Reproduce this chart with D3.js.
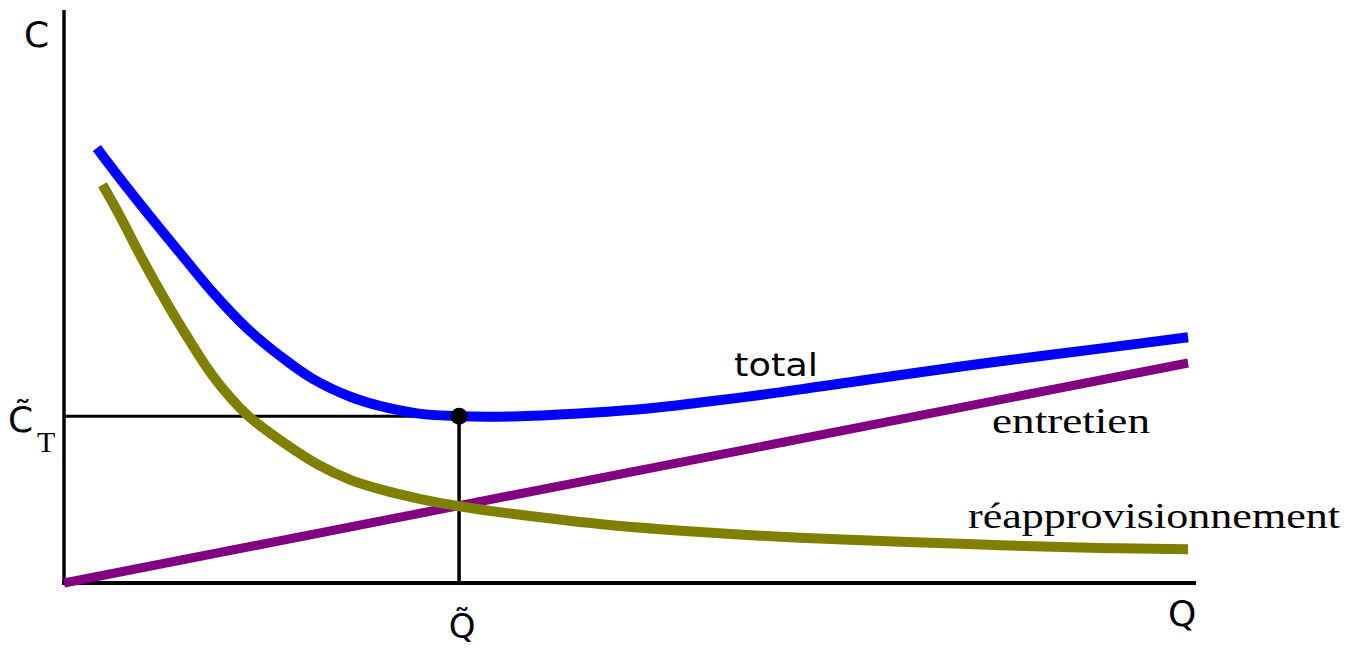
<!DOCTYPE html>
<html>
<head>
<meta charset="utf-8">
<script src="https://cdn.jsdelivr.net/npm/d3@7"></script>
<style>
  html, body { margin: 0; padding: 0; background: #fff; }
  svg { display: block; }
</style>
</head>
<body>
<svg id="chart" width="1359" height="648"></svg>
<script>
// ---- Data (arbitrary units) ----
const totalQ   = [0.29, 0.49, 0.76, 1.05, 1.32, 1.62, 1.93, 2.20, 2.53, 2.79, 3.12, 3.49, 4.03, 4.65, 5.18, 5.62, 6.15, 6.68, 7.39, 8.27, 9.15, 9.93];
const totalC   = [7.59, 7.07, 6.40, 5.70, 5.06, 4.44, 3.93, 3.56, 3.25, 3.09, 2.96, 2.91, 2.91, 2.97, 3.05, 3.15, 3.28, 3.43, 3.63, 3.87, 4.09, 4.29];

const reapproQ = [0.34, 0.49, 0.70, 0.91, 1.05, 1.32, 1.62, 1.97, 2.24, 2.53, 2.82, 3.14, 3.49, 4.03, 4.73, 5.62, 6.50, 7.39, 8.27, 9.15, 9.93];
const reapproC = [6.95, 6.42, 5.62, 4.88, 4.42, 3.60, 2.93, 2.41, 2.07, 1.80, 1.62, 1.47, 1.34, 1.19, 1.03, 0.89, 0.79, 0.72, 0.66, 0.61, 0.59];

const entretienQ = [0, 3.49, 9.93];
const entretienC = [0, 1.35, 3.84];

const optimumQ = 3.49;   // Q tilde
const optimumC = 2.91;   // C tilde T

const seriesLabels = ["total", "entretien", "réapprovisionnement"];
const axisLabels = { y: "C", x: "Q", optX: "Q\u0303", optY: "C\u0303", optYsub: "T" };

// ---- Scales ----
const svg = d3.select("#chart");
const x = d3.scaleLinear().domain([0, 10]).range([64, 1196]);
const y = d3.scaleLinear().domain([0, 10]).range([583, 10]);

// ---- Axes (no ticks) ----
const xAxis = svg.append("g").attr("transform", `translate(0,${y(0)})`)
  .call(d3.axisBottom(x).ticks(0).tickSizeOuter(0));
xAxis.select(".domain").attr("stroke", "#000").attr("stroke-width", 4)
  .attr("d", `M${x(0) - 2},0H${x(10)}`);

const yAxis = svg.append("g").attr("transform", `translate(${x(0)},0)`)
  .call(d3.axisLeft(y).ticks(0).tickSizeOuter(0));
yAxis.select(".domain").attr("stroke", "#000").attr("stroke-width", 3.5)
  .attr("d", `M0,${y(10)}V${y(0) + 2}`);

// ---- Guide lines to optimum ----
svg.append("line")
  .attr("x1", x(0)).attr("x2", x(optimumQ))
  .attr("y1", y(optimumC)).attr("y2", y(optimumC))
  .attr("stroke", "#000").attr("stroke-width", 3);
svg.append("line")
  .attr("x1", x(optimumQ)).attr("x2", x(optimumQ))
  .attr("y1", y(optimumC)).attr("y2", y(0))
  .attr("stroke", "#000").attr("stroke-width", 3.5);

// ---- Curves ----
const line = d3.line().x(d => x(d[0])).y(d => y(d[1])).curve(d3.curveCatmullRom.alpha(0.5));
const zip = (a, b) => a.map((v, i) => [v, b[i]]);

svg.append("path").datum(zip(entretienQ, entretienC))
  .attr("d", d3.line().x(d => x(d[0])).y(d => y(d[1])))
  .attr("fill", "none").attr("stroke", "#800080").attr("stroke-width", 9);
svg.append("path").datum(zip(reapproQ, reapproC))
  .attr("d", line).attr("fill", "none").attr("stroke", "#808000").attr("stroke-width", 10);
svg.append("path").datum(zip(totalQ, totalC))
  .attr("d", line).attr("fill", "none").attr("stroke", "#0000ff").attr("stroke-width", 10);

// ---- Optimum dot ----
svg.append("circle").attr("cx", x(optimumQ)).attr("cy", y(optimumC)).attr("r", 8.5).attr("fill", "#000");

// ---- Series labels ----
svg.append("text").attr("x", 734).attr("y", 376)
  .attr("font-family", "DejaVu Sans, sans-serif").attr("font-size", 32)
  .attr("textLength", 84).attr("lengthAdjust", "spacingAndGlyphs")
  .text(seriesLabels[0]);
svg.append("text").attr("x", 992).attr("y", 433)
  .attr("font-family", "Liberation Serif, serif").attr("font-size", 36)
  .attr("textLength", 158).attr("lengthAdjust", "spacingAndGlyphs")
  .text(seriesLabels[1]);
svg.append("text").attr("x", 968).attr("y", 528)
  .attr("font-family", "Liberation Serif, serif").attr("font-size", 36)
  .attr("textLength", 372).attr("lengthAdjust", "spacingAndGlyphs")
  .text(seriesLabels[2]);

// ---- Axis labels ----
const sans = "DejaVu Sans, Liberation Sans, sans-serif";
svg.append("text").attr("x", 24).attr("y", 47)
  .attr("font-family", sans).attr("font-size", 36).text(axisLabels.y);
svg.append("text").attr("x", 1168).attr("y", 626)
  .attr("font-family", sans).attr("font-size", 36).text(axisLabels.x);

// Q tilde
svg.append("text").attr("x", x(optimumQ) + 3).attr("y", 638).attr("text-anchor", "middle")
  .attr("font-family", sans).attr("font-size", 34).text(axisLabels.optX);

// C tilde T
svg.append("text").attr("x", 8).attr("y", 432)
  .attr("font-family", sans).attr("font-size", 36).text(axisLabels.optY);
svg.append("text").attr("x", 37).attr("y", 452)
  .attr("font-family", "Liberation Serif, serif").attr("font-size", 30).text(axisLabels.optYsub);
</script>
</body>
</html>
